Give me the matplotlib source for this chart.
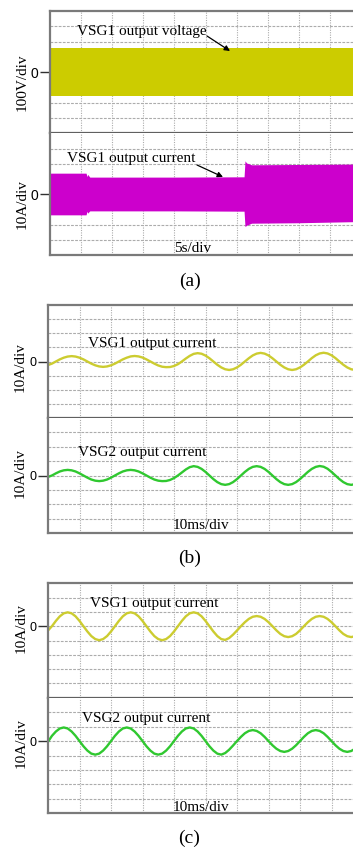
import numpy as np
import matplotlib
matplotlib.use('Agg')
import matplotlib.pyplot as plt

W, H = 353, 848

# ---- panel (a): envelope of 50 s record (5 s/div) ----
ta_v = [0, 50]                       # s
va_up = [158, 158]                   # V
va_lo = [-158, -158]

ta_i = [0, 5.8, 5.95, 6.05, 6.4, 20, 31.2, 31.35, 31.6, 32.4, 40, 50]
ia_up = [13.8, 13.8, 11.5, 13.0, 11.2, 11.2, 11.4, 21.9, 20.5, 19.3, 19.5, 19.8]
ia_lo = [-13.6, -13.6, -11.2, -12.5, -11.0, -11.0, -11.2, -21.3, -20.5, -19.1, -18.8, -18.0]

# ---- panels (b), (c): currents read every 1.25 ms (10 ms/div) ----
t_ms = np.arange(0, 100.01, 1.25)

ib_vsg1 = [-2.5, -1.5, 0, 1.5, 2.7, 3.5, 3.8, 3.5, 2.7, 1.5, 0, -1.5, -2.7, -3.5, -3.8, -3.5,
           -2.7, -1.5, 0, 1.5, 2.7, 3.6, 3.9, 3.6, 2.8, 1.5, 0, -1.5, -2.8, -3.7, -4.0, -3.9,
           -3.2, -1.9, 0, 2.1, 4.0, 5.4, 5.9, 5.5, 4.2, 2.3, 0, -2.3, -4.2, -5.5, -6.0, -5.5,
           -4.2, -2.3, 0, 2.3, 4.3, 5.6, 6.1, 5.6, 4.3, 2.3, 0, -2.3, -4.2, -5.5, -6.0, -5.5,
           -4.2, -2.3, 0, 2.4, 4.4, 5.7, 6.2, 5.7, 4.4, 2.4, 0, -2.3, -4.2, -5.5, -6.0, -5.5,
           -4.2]
ib_vsg2 = [-1.0, 0, 1.5, 2.8, 3.6, 3.9, 3.6, 2.8, 1.5, 0, -1.5, -2.8, -3.6, -3.9, -3.6, -2.8,
           -1.5, 0, 1.5, 2.8, 3.6, 3.9, 3.6, 2.8, 1.5, 0, -1.5, -2.8, -3.6, -3.9, -3.8, -3.1,
           -1.8, 0, 2.1, 4.2, 5.8, 6.5, 6.0, 4.6, 2.5, 0, -2.5, -4.6, -6.0, -6.5, -6.0, -4.6,
           -2.5, 0, 2.5, 4.6, 6.0, 6.5, 6.0, 4.6, 2.5, 0, -2.5, -4.6, -6.0, -6.5, -6.0, -4.6,
           -2.5, 0, 2.5, 4.6, 6.0, 6.6, 6.1, 4.7, 2.5, 0, -2.5, -4.6, -6.0, -6.5, -6.0, -4.6,
           -2.5]
ic_vsg1 = [-3.0, 0, 3.7, 6.9, 9.0, 9.7, 9.0, 6.9, 3.7, 0, -3.7, -6.9, -9.0, -9.8, -9.0, -6.9,
           -3.7, 0, 3.7, 6.9, 9.0, 9.7, 9.0, 6.9, 3.7, 0, -3.7, -6.9, -9.0, -9.8, -9.0, -6.9,
           -3.7, 0, 3.7, 6.9, 9.0, 9.7, 9.0, 6.9, 3.7, 0, -3.7, -6.9, -9.0, -9.6, -8.3, -5.9,
           -3.0, 0, 2.8, 5.1, 6.6, 7.1, 6.6, 5.1, 2.8, 0, -2.9, -5.4, -7.0, -7.6, -7.0, -5.4,
           -2.9, 0, 2.8, 5.1, 6.6, 7.1, 6.6, 5.1, 2.8, 0, -2.9, -5.4, -7.0, -7.6, -7.0, -5.4,
           -2.9]
ic_vsg2 = [-0.5, 3.6, 6.6, 8.7, 9.4, 8.7, 6.6, 3.6, 0, -3.6, -6.6, -8.7, -9.4, -8.7, -6.6, -3.6,
           0, 3.6, 6.6, 8.7, 9.4, 8.7, 6.6, 3.6, 0, -3.6, -6.6, -8.7, -9.4, -8.7, -6.6, -3.6,
           0, 3.6, 6.6, 8.7, 9.4, 8.7, 6.6, 3.6, 0, -3.6, -6.6, -8.7, -9.4, -8.3, -6.0, -3.1,
           0, 2.9, 5.4, 7.0, 7.6, 7.0, 5.4, 2.9, 0, -2.9, -5.3, -6.9, -7.5, -6.9, -5.3, -2.9,
           0, 2.9, 5.4, 7.0, 7.6, 7.0, 5.4, 2.9, 0, -2.9, -5.3, -6.9, -7.5, -6.9, -5.3, -2.9,
           0]

YELLOW_A = '#cccc00'
MAGENTA = '#cc00cc'
YELLOW = '#cccc30'
GREEN = '#30c830'
GRID = '#acacac'
FRAME = '#7a7a7a'

plt.rcParams['font.family'] = ['Liberation Serif', 'DejaVu Serif']

fig = plt.figure(figsize=(W / 100, H / 100), dpi=100)


def fx(x):
    return x / W


def fy(y):
    return 1 - y / H


def scope_axes(left, top, bottom, width, xlim, ylim, ystep, zero_size, is_lower):
    ax = fig.add_axes([fx(left), fy(bottom), width / W, (bottom - top) / H])
    ax.set_xlim(xlim)
    ax.set_ylim(ylim)
    dx = (xlim[1] - xlim[0]) / 10
    for k in range(1, 10):
        ax.axvline(xlim[0] + k * dx, color=GRID, lw=0.8, ls=(0, (1, 1.2)), zorder=0)
    y = ylim[0] + ystep
    while y < ylim[1] - 1e-9:
        ax.axhline(y, color=GRID, lw=0.8, ls=(0, (2.5, 1.2)), zorder=0)
        y += ystep
    ax.set_xticks([])
    ax.set_yticks([0])
    ax.set_yticklabels(['0'], family='Liberation Sans', fontsize=zero_size)
    ax.tick_params(axis='y', length=7.5, width=1.0, color='#303030', pad=0.8)
    for s in ax.spines.values():
        s.set_color(FRAME)
        s.set_linewidth(1.6)
    if is_lower:
        ax.spines['top'].set_visible(False)
    else:
        ax.spines['bottom'].set_color('#606060')
    return ax


def label(x, y, s, size=11, **kw):
    fig.text(fx(x), fy(y), s, fontsize=size, ha='center', va='baseline', **kw)


def ylab(x, y, s):
    fig.text(fx(x), fy(y), s, fontsize=11, rotation=90, ha='center', va='center')


def arrow(x0, y0, x1, y1):
    fig.add_artist(matplotlib.patches.FancyArrowPatch(
        (fx(x0), fy(y0)), (fx(x1), fy(y1)), transform=fig.transFigure,
        arrowstyle='-|>', mutation_scale=8, lw=0.9, color='k', shrinkA=0, shrinkB=0))


# ---------------- (a) ----------------
a1 = scope_axes(50, 11, 133.3, 311, (0, 50), (-400, 400), 100, 10, False)
a1.fill_between(ta_v, va_lo, va_up, color=YELLOW_A, lw=0, zorder=2)
a2 = scope_axes(50, 133.3, 255, 311, (0, 50), (-40, 40), 10, 10, True)
a2.fill_between(ta_i, ia_lo, ia_up, color=MAGENTA, lw=0, zorder=2)

label(141.5, 35, 'VSG1 output voltage')
arrow(207, 36, 230, 51)
label(131.5, 161.7, 'VSG1 output current')
arrow(197, 165, 223, 177)
label(192.5, 251.5, '5s/div')
label(190, 286, '(a)', size=14)
ylab(21.7, 82.5, '100V/div')
ylab(21.7, 204, '10A/div')

# ---------------- (b) ----------------
b1 = scope_axes(48, 305, 418, 315, (0, 100), (-40, 40), 10, 9, False)
b1.plot(t_ms, ib_vsg1, color=YELLOW, lw=1.7, zorder=2)
b2 = scope_axes(48, 418, 533, 315, (0, 100), (-40, 40), 10, 9, True)
b2.plot(t_ms, ib_vsg2, color=GREEN, lw=1.7, zorder=2)

label(152.5, 346.7, 'VSG1 output current')
label(142.5, 455.7, 'VSG2 output current')
label(201, 529.3, '10ms/div')
label(190, 563, '(b)', size=14)
ylab(20.5, 367, '10A/div')
ylab(20.5, 473, '10A/div')

# ---------------- (c) ----------------
c1 = scope_axes(48, 583.3, 697.7, 315, (0, 100), (-50, 30), 10, 9, False)
c1.plot(t_ms, ic_vsg1, color=YELLOW, lw=1.7, zorder=2)
c2 = scope_axes(48, 697.7, 813.3, 315, (0, 100), (-50, 30), 10, 9, True)
c2.plot(t_ms, ic_vsg2, color=GREEN, lw=1.7, zorder=2)

label(154, 606.7, 'VSG1 output current')
label(146, 721.7, 'VSG2 output current')
label(201, 810.7, '10ms/div')
label(189, 843, '(c)', size=14)
ylab(21, 628, '10A/div')
ylab(21, 743.5, '10A/div')

fig.savefig('out.png', dpi=100)
